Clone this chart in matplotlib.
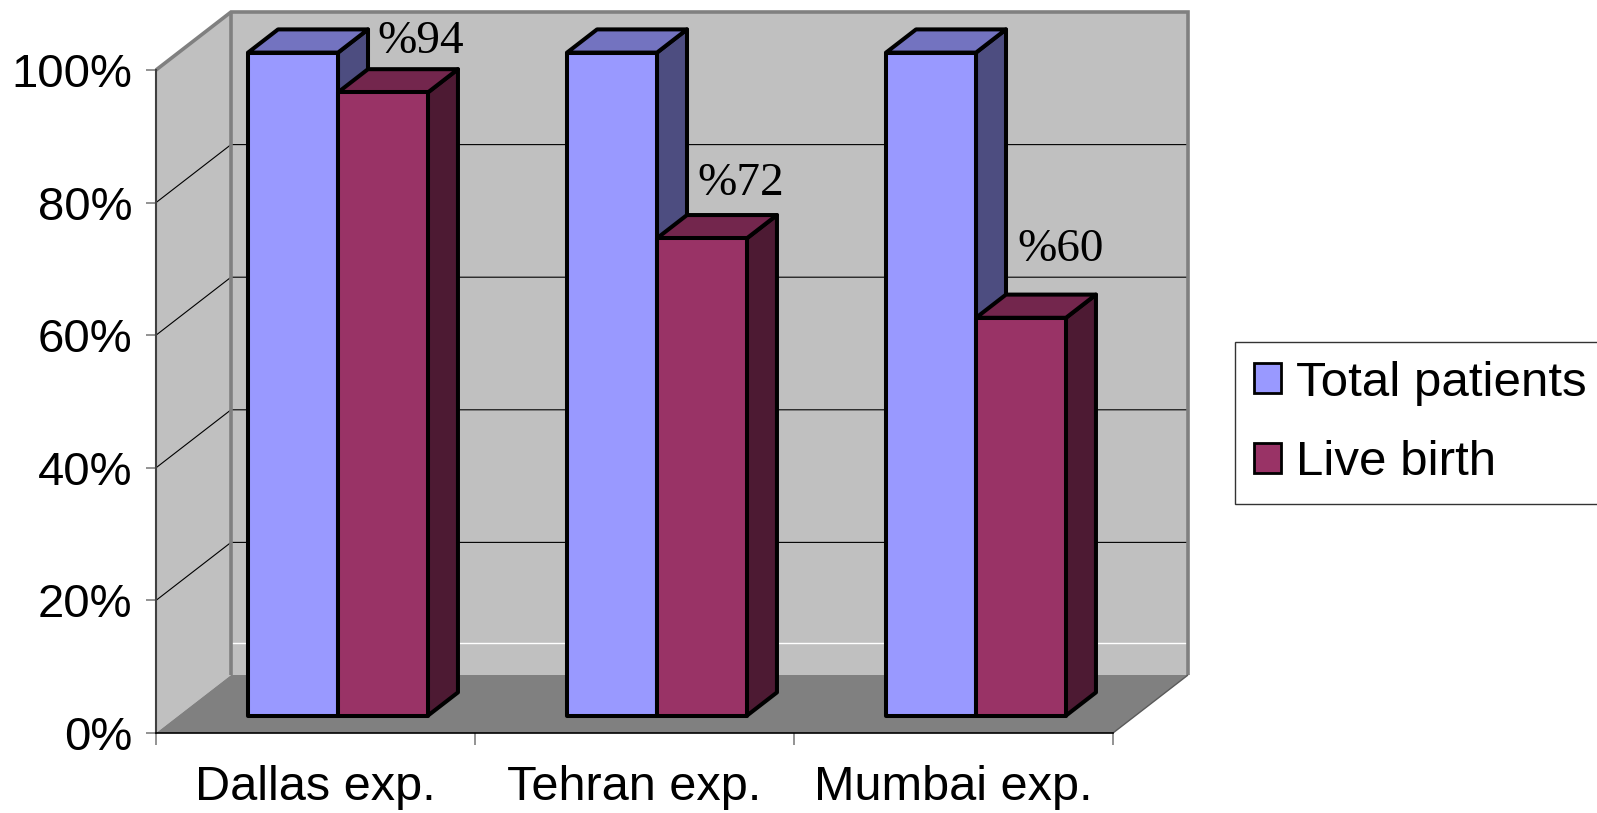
import matplotlib
matplotlib.use("Agg")
import matplotlib.pyplot as plt
from matplotlib.patches import Polygon, Patch
from matplotlib.ticker import FixedLocator, FuncFormatter, NullFormatter

# ---- data -------------------------------------------------------------
categories = ["Dallas exp.", "Tehran exp.", "Mumbai exp."]
series_names = ["Total patients", "Live birth"]
total_patients = [100, 100, 100]
live_birth = [94, 72, 60]
y_ticks = [0, 20, 40, 60, 80, 100]

# ---- style ------------------------------------------------------------
FRONT = ["#9999FF", "#993366"]
TOP = ["#7373C0", "#73264D"]
SIDE = ["#4D4D80", "#4D1A33"]
WALL = "#C0C0C0"
FLOOR = "#808080"
WALL_EDGE = "#808080"

plt.rcParams["font.family"] = ["Liberation Sans", "DejaVu Sans"]

W, H, DPI = 1597, 813, 100
fig = plt.figure(figsize=(W / DPI, H / DPI), dpi=DPI)
fig.patch.set_facecolor("white")

# front plane of the 3-D box: categories along x, percent along y
ax = fig.add_axes([156 / W, (H - 733) / H, 957 / W, 663 / H])
n = len(categories)
ax.set_xlim(0, n)
ax.set_ylim(0, 100)
ax.set_facecolor("none")

# oblique depth vector (one full depth step, in data units)
DX = 75 / 319
DY = 58 / 6.63
BAR_W = 0.282
D0, D1 = 0.3, 0.7
EDGE_LW = 2.9


def P(x, y, d):
    return (x + d * DX, y + d * DY)


def face(pts, fc, ec="none", lw=0.0, z=1.0):
    poly = Polygon([P(*p) for p in pts], closed=True, facecolor=fc,
                   edgecolor=ec, linewidth=lw, clip_on=False, zorder=z,
                   joinstyle="round")
    ax.add_patch(poly)


def line(pts, color, lw, z):
    xs, ys = zip(*[P(*p) for p in pts])
    ax.plot(xs, ys, color=color, lw=lw, zorder=z, clip_on=False,
            solid_capstyle="butt", solid_joinstyle="miter")


ymax = y_ticks[-1]

# walls and floor
face([(0, 0, 1), (n, 0, 1), (n, ymax, 1), (0, ymax, 1)], WALL, z=0.5)
face([(0, 0, 0), (0, 0, 1), (0, ymax, 1), (0, ymax, 0)], WALL, z=0.5)
face([(0, 0, 0), (n, 0, 0), (n, 0, 1), (0, 0, 1)], FLOOR, z=0.8)

# gridlines running over the side wall and the back wall
for t in y_ticks[1:-1]:
    line([(0, t, 0), (0, t, 1), (n, t, 1)], "black", 0.8, 0.7)
line([(0, 4.8, 1), (n, 4.8, 1)], "white", 1.0, 0.7)

# wall borders
line([(0, ymax, 0), (0, ymax, 1), (n, ymax, 1), (n, 0, 1)], WALL_EDGE, 2.6, 0.9)
line([(0, ymax, 1), (0, 0, 1)], WALL_EDGE, 2.6, 0.9)
line([(n, 0, 0), (n, 0, 1)], "#5a5a5a", 1.0, 0.9)

# bars
for i in range(n):
    c = i + 0.5
    for s, vals in enumerate([total_patients, live_birth]):
        x0 = c - BAR_W + s * BAR_W
        x1 = x0 + BAR_W
        v = vals[i]
        z = 3 + i * 0.1 + s * 0.01
        face([(x1, 0, D0), (x1, 0, D1), (x1, v, D1), (x1, v, D0)],
             SIDE[s], "black", EDGE_LW, z)
        face([(x0, v, D0), (x1, v, D0), (x1, v, D1), (x0, v, D1)],
             TOP[s], "black", EDGE_LW, z)
        face([(x0, 0, D0), (x1, 0, D0), (x1, v, D0), (x0, v, D0)],
             FRONT[s], "black", EDGE_LW, z)

# value labels above the live-birth bars
label_offsets = [(5.4, 11.9), (6.1, 14.4), (7.2, 24.2)]
for i, v in enumerate(live_birth):
    c = i + 0.5
    ax.annotate(f"%{v}", xy=P(c + BAR_W / 2, v, D1), xytext=label_offsets[i],
                textcoords="offset points", ha="center", va="baseline",
                fontsize=34, family=["Liberation Serif", "DejaVu Serif"],
                zorder=6, annotation_clip=False)

# axes
for side in ("top", "right"):
    ax.spines[side].set_visible(False)
ax.spines["left"].set_color("#404040")
ax.spines["left"].set_linewidth(1.5)
ax.spines["bottom"].set_color("black")
ax.spines["bottom"].set_linewidth(1.2)
ax.spines["left"].set_zorder(2)
ax.spines["bottom"].set_zorder(2)

ax.yaxis.set_major_locator(FixedLocator(y_ticks))
ax.yaxis.set_major_formatter(FuncFormatter(lambda v, _: f"{v:.0f}%"))
ax.tick_params(axis="y", length=7.2, width=1.2, color="#808080", pad=10,
               labelsize=34)

ax.xaxis.set_major_locator(FixedLocator(list(range(n + 1))))
ax.xaxis.set_major_formatter(NullFormatter())
ax.xaxis.set_minor_locator(FixedLocator([i + 0.5 for i in range(n)]))
ax.set_xticklabels(categories, minor=True)
ax.tick_params(axis="x", which="major", length=8.6, width=1.2, color="#808080")
ax.tick_params(axis="x", which="minor", length=0, pad=23, labelsize=35)

# legend
handles = [Patch(facecolor=FRONT[s], edgecolor="black", linewidth=2)
           for s in range(len(series_names))]
leg = fig.legend(handles, series_names, loc="upper left",
                 bbox_to_anchor=(1235 / W, 1 - 342 / H), frameon=True,
                 fancybox=False, edgecolor="black", fontsize=35.5,
                 handlelength=0.56, handleheight=0.56, handletextpad=0.3,
                 borderpad=0.38, labelspacing=0.7, borderaxespad=0)
leg.get_frame().set_linewidth(1.0)

fig.savefig("out.png", dpi=DPI, facecolor="white")
